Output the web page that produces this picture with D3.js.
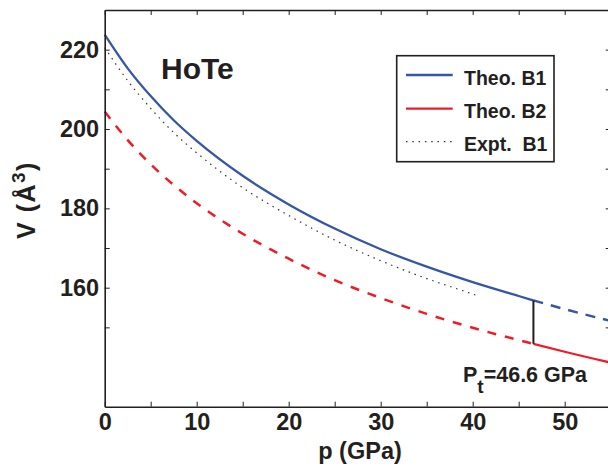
<!DOCTYPE html>
<html>
<head>
<meta charset="utf-8">
<script src="https://cdn.jsdelivr.net/npm/d3@7"></script>
<style>
  body { margin: 0; background: #fff; }
  text { font-family: "Liberation Sans", Arial, sans-serif; font-weight: bold; fill: #231f20; }
</style>
</head>
<body>
<script>
var width = 608,
    height = 468;

// pressure grid (GPa) and volumes (A^3)
var pTheo = [0, 2.5, 5, 7.5, 10, 15, 20, 25, 30, 35, 40, 45, 46.6, 50, 55];
var vTheoB1 = [223.8, 215.3, 208.3, 202.2, 197.0, 188.2, 181.0, 174.9, 169.7, 165.3, 161.4, 157.9, 156.8, 154.6, 151.6];
var vTheoB2 = [204.4, 197.2, 191.1, 185.9, 181.3, 173.6, 167.3, 161.9, 157.4, 153.4, 149.9, 146.8, 145.85, 143.85, 141.1];

var pExpt = [0, 2.5, 5, 7.5, 10, 15, 20, 25, 30, 35, 40, 40.5];
var vExptB1 = [220.5, 212.2, 205.2, 199.1, 194.0, 185.2, 178.2, 172.0, 166.8, 162.3, 158.4, 158.0];

var pTransition = 46.6;

var xTicks = [0, 5, 10, 15, 20, 25, 30, 35, 40, 45, 50, 55],
    xLabels = [0, 10, 20, 30, 40, 50];
var yTicks = [150, 160, 170, 180, 190, 200, 210, 220],
    yLabels = [160, 180, 200, 220];

var legendNames = ["Theo. B1", "Theo. B2", "Expt.  B1"];

var blue = "#3556a8",
    red = "#ee1c25",
    ink = "#231f20";

// plot box (note: "top" is reserved on window, so prefix everything)
var boxLeft = 104.7, boxRight = 610.7, boxTop = 10, boxBottom = 406.7;

var x = d3.scaleLinear().domain([0, 55]).range([boxLeft, boxRight]);
var y = d3.scaleLinear().domain([130, 230]).range([boxBottom, boxTop]);

var svg = d3.select("body").append("svg")
    .attr("width", width)
    .attr("height", height);

function pts(ps, vs) {
    return ps.map(function(p, i) { return {p: p, v: vs[i]}; });
}
var line = d3.line()
    .x(function(d) { return x(d.p); })
    .y(function(d) { return y(d.v); })
    .curve(d3.curveMonotoneX);

var b1 = pts(pTheo, vTheoB1),
    b2 = pts(pTheo, vTheoB2),
    ex = pts(pExpt, vExptB1);

var g = svg.append("g");

// expt dotted
g.append("path").attr("d", line(ex))
    .attr("fill", "none").attr("stroke", "#333").attr("stroke-width", 1.2)
    .attr("stroke-dasharray", "1.5,4.8");

// B2: dashed below transition, solid above
g.append("path").attr("d", line(b2.filter(function(d) { return d.p <= pTransition; })))
    .attr("fill", "none").attr("stroke", red).attr("stroke-width", 2.5)
    .attr("stroke-dasharray", "9,9");
g.append("path").attr("d", line(b2.filter(function(d) { return d.p >= pTransition; })))
    .attr("fill", "none").attr("stroke", red).attr("stroke-width", 2.3);

// B1: solid below transition, dashed above
g.append("path").attr("d", line(b1.filter(function(d) { return d.p <= pTransition; })))
    .attr("fill", "none").attr("stroke", blue).attr("stroke-width", 2.3);
g.append("path").attr("d", line(b1.filter(function(d) { return d.p >= pTransition; })))
    .attr("fill", "none").attr("stroke", blue).attr("stroke-width", 2.5)
    .attr("stroke-dasharray", "10,8");

// transition marker
var iT = pTheo.indexOf(pTransition);
g.append("line")
    .attr("x1", x(pTransition)).attr("x2", x(pTransition))
    .attr("y1", y(vTheoB1[iT])).attr("y2", y(vTheoB2[iT]))
    .attr("stroke", ink).attr("stroke-width", 2);

// axes (ticks pointing inward, box on all sides)
function styleAxis(sel) {
    sel.select(".domain").attr("stroke", ink).attr("stroke-width", 1.6);
    sel.selectAll(".tick line").attr("stroke", ink).attr("stroke-width", 1);
    sel.selectAll(".tick text").attr("font-size", "23.5px").attr("fill", ink)
        .attr("font-family", "Liberation Sans, Arial, sans-serif").attr("font-weight", "bold");
}

svg.append("g").attr("transform", "translate(0," + boxBottom + ")")
    .call(d3.axisBottom(x).tickValues(xTicks).tickSizeInner(-5).tickSizeOuter(0).tickPadding(7)
        .tickFormat(function(d) { return xLabels.indexOf(d) >= 0 ? d : ""; }))
    .call(styleAxis);
svg.append("g").attr("transform", "translate(0," + boxTop + ")")
    .call(d3.axisTop(x).tickValues(xTicks).tickSizeInner(-5).tickSizeOuter(0).tickFormat(""))
    .call(styleAxis);
svg.append("g").attr("transform", "translate(" + boxLeft + ",0)")
    .call(d3.axisLeft(y).tickValues(yTicks).tickSizeInner(-5).tickSizeOuter(0).tickPadding(5.5)
        .tickFormat(function(d) { return yLabels.indexOf(d) >= 0 ? d : ""; }))
    .call(styleAxis);
svg.append("g").attr("transform", "translate(" + boxRight + ",0)")
    .call(d3.axisRight(y).tickValues(yTicks).tickSizeInner(-5).tickSizeOuter(0).tickFormat(""))
    .call(styleAxis);

// axis titles
svg.append("text")
    .attr("x", 360).attr("y", 459)
    .attr("text-anchor", "middle").attr("font-size", "23.5px")
    .text("p (GPa)");

var yt = svg.append("text")
    .attr("transform", "translate(35,200) rotate(-90)")
    .attr("text-anchor", "middle").attr("font-size", "25px")
    .attr("letter-spacing", "1.5px");
yt.append("tspan").text("V (Å");
yt.append("tspan").attr("dy", -10).attr("font-size", "19px").text("3");
yt.append("tspan").attr("dy", 10).text(")");

// compound label
svg.append("text")
    .attr("x", 161).attr("y", 78.5)
    .attr("font-size", "30px")
    .text("HoTe");

// transition pressure label
var pt = svg.append("text")
    .attr("x", 463).attr("y", 381.7)
    .attr("font-size", "21.5px");
pt.append("tspan").text("P");
pt.append("tspan").attr("dy", 11).attr("font-size", "19px").text("t");
pt.append("tspan").attr("dy", -11).text("=46.6 GPa");

// legend
var lg = svg.append("g");
lg.append("rect")
    .attr("x", 396.7).attr("y", 55.7)
    .attr("width", 157.3).attr("height", 106)
    .attr("fill", "#fff").attr("stroke", ink).attr("stroke-width", 1.6);

var legendStyles = [
    {color: blue, dash: null, w: 2.3},
    {color: red, dash: null, w: 2.3},
    {color: "#333", dash: "1.5,4.8", w: 1.2}
];
var rowY = [75, 108.7, 141.7];
legendNames.forEach(function(name, i) {
    lg.append("line")
        .attr("x1", 406).attr("x2", 452.7)
        .attr("y1", rowY[i]).attr("y2", rowY[i])
        .attr("stroke", legendStyles[i].color)
        .attr("stroke-width", legendStyles[i].w)
        .attr("stroke-dasharray", legendStyles[i].dash);
    lg.append("text")
        .attr("x", 464).attr("y", rowY[i] + 9.7)
        .attr("font-size", "19.5px")
        .style("white-space", "pre")
        .text(name);
});
</script>
</body>
</html>
